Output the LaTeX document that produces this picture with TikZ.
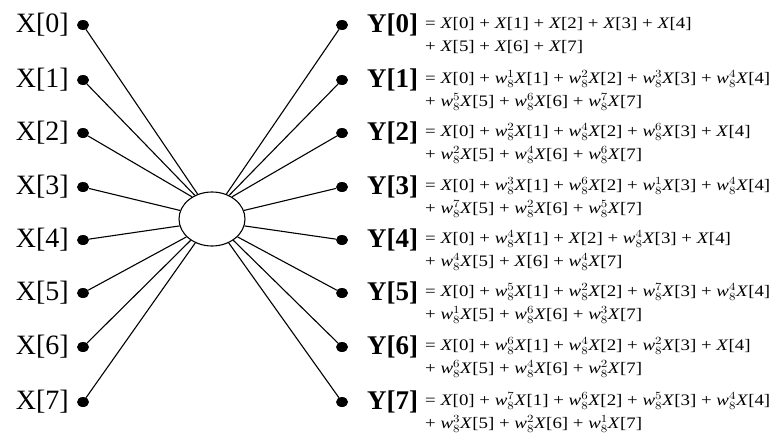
\documentclass[tikz,border=0pt]{standalone}
\usepackage{fontspec}
\setmainfont{Liberation Serif}
\usetikzlibrary{shapes.geometric}
\newcommand\Xn[1]{\textit{X}[#1]}
\newcommand\Wn[1]{\textit{w}$_8^{#1}$}
\newcommand\sx[1]{\scalebox{1.18}[1]{#1}}
\tikzset{
  dot/.style={ellipse,fill=black,inner sep=0pt,minimum width=12pt,minimum height=10pt},
  hub/.style={ellipse,draw,line width=1.1pt,fill=white,minimum width=66pt,minimum height=54pt,inner sep=0pt},
  xlab/.style={anchor=east,inner sep=0pt,font=\fontsize{28}{30}\selectfont},
  ylab/.style={anchor=west,inner sep=0pt,font=\fontsize{27}{30}\selectfont\bfseries},
  eqn/.style={anchor=west,inner sep=0pt,font=\fontsize{16}{19}\selectfont},
  wire/.style={line width=1.1pt}
}
\begin{document}
\begin{tikzpicture}[x=1pt,y=-1pt]
\useasboundingbox (0,0) rectangle (778,434);
\node[hub] (c) at (212,219) {};
\foreach \i/\yy in {0/25,1/80,2/133,3/187,4/240,5/293,6/347,7/402}{
  \node[dot] (x\i) at (83,\yy) {};
  \node[xlab] (xl\i) at (69,\yy) {X[\i]};
  \node[dot] (y\i) at (342,\yy) {};
  \node[ylab] (yl\i) at (367,\yy) {Y[\i]};
}
\foreach \i/\a in {0/120,1/126,2/132,3/165,4/192,5/215,6/225,7/235}{
  \draw[wire] (x\i) -- (c.\a);
}
\foreach \i/\a in {0/60,1/54,2/48,3/15,4/-12,5/-35,6/-45,7/-55}{
  \draw[wire] (y\i) -- (c.\a);
}
\newcommand\eqrow[4]{%
  \node[eqn] (e#1a) at (425,#2-1) {\sx{#3}};
  \node[eqn] (e#1b) at (425,#2+22) {\sx{#4}};}
\eqrow{0}{25}{= \Xn0 + \Xn1 + \Xn2 + \Xn3 + \Xn4}{+ \Xn5 + \Xn6 + \Xn7}
\eqrow{1}{80}{= \Xn0 + \Wn1\Xn1 + \Wn2\Xn2 + \Wn3\Xn3 + \Wn4\Xn4}{+ \Wn5\Xn5 + \Wn6\Xn6 + \Wn7\Xn7}
\eqrow{2}{133}{= \Xn0 + \Wn2\Xn1 + \Wn4\Xn2 + \Wn6\Xn3 + \Xn4}{+ \Wn2\Xn5 + \Wn4\Xn6 + \Wn6\Xn7}
\eqrow{3}{187}{= \Xn0 + \Wn3\Xn1 + \Wn6\Xn2 + \Wn1\Xn3 + \Wn4\Xn4}{+ \Wn7\Xn5 + \Wn2\Xn6 + \Wn5\Xn7}
\eqrow{4}{240}{= \Xn0 + \Wn4\Xn1 + \Xn2 + \Wn4\Xn3 + \Xn4}{+ \Wn4\Xn5 + \Xn6 + \Wn4\Xn7}
\eqrow{5}{293}{= \Xn0 + \Wn5\Xn1 + \Wn2\Xn2 + \Wn7\Xn3 + \Wn4\Xn4}{+ \Wn1\Xn5 + \Wn6\Xn6 + \Wn3\Xn7}
\eqrow{6}{347}{= \Xn0 + \Wn6\Xn1 + \Wn4\Xn2 + \Wn2\Xn3 + \Xn4}{+ \Wn6\Xn5 + \Wn4\Xn6 + \Wn2\Xn7}
\eqrow{7}{402}{= \Xn0 + \Wn7\Xn1 + \Wn6\Xn2 + \Wn5\Xn3 + \Wn4\Xn4}{+ \Wn3\Xn5 + \Wn2\Xn6 + \Wn1\Xn7}
\end{tikzpicture}
\end{document}
